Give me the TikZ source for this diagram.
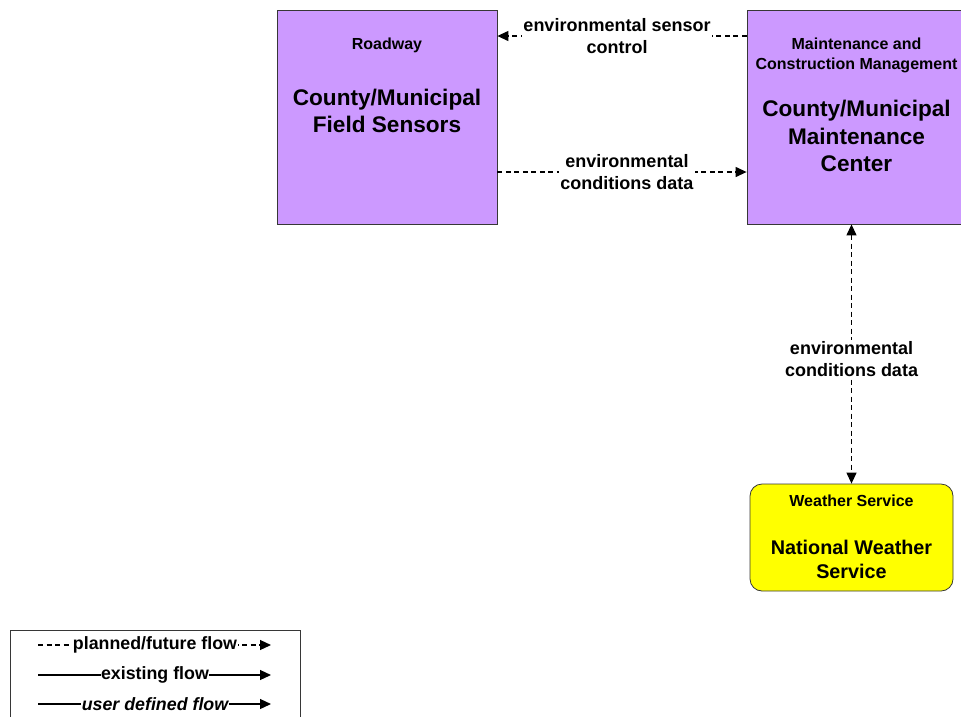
\documentclass[tikz,border=0pt]{standalone}
\usepackage{fontspec}
\setmainfont{Liberation Sans}
\usepackage{tikz}
\usetikzlibrary{arrows.meta,positioning,calc}
\definecolor{entpurple}{RGB}{204,153,255}
\definecolor{entyellow}{RGB}{255,255,0}
\definecolor{edgegray}{RGB}{55,55,55}
\newcommand{\classfont}{\fontsize{16}{20}\selectfont\bfseries}
\newcommand{\namefont}{\fontsize{22.6}{27.5}\selectfont\bfseries}
\newcommand{\flowfont}{\fontsize{18}{22}\selectfont\bfseries}

\begin{document}
\begin{tikzpicture}[x=1pt,y=-1pt,
  entity/.style={draw=edgegray,line width=0.8pt,inner sep=0pt},
  flowlbl/.style={font=\flowfont,fill=white,align=center,inner sep=1.5pt},
  planned/.style={line width=1.2pt,dash pattern=on 5pt off 3.5pt,-{Triangle[length=11pt,width=10pt]}},
  existing/.style={line width=1.2pt,-{Triangle[length=11pt,width=10pt]}}]
  \useasboundingbox (0,0) rectangle (961,716);

  % ---- entities ----
  \node[entity,fill=entpurple,minimum width=220pt,minimum height=214pt] (cfs) at (387,117) {};
  \node[font=\classfont] (cfs-class) at (387,45) {Roadway};
  \node[font=\namefont,align=center] (cfs-name) at (387,111) {County/Municipal\\Field Sensors};

  \node[entity,fill=entpurple,minimum width=219pt,minimum height=214pt] (mcm) at (856.5,117) {};
  \node[font=\classfont,align=center] (mcm-class) at (856.5,55) {Maintenance and\\Construction Management};
  \node[font=\namefont,align=center] (mcm-name) at (856.5,136) {County/Municipal\\Maintenance\\Center};

  \node[entity,fill=entyellow,rounded corners=12pt,minimum width=203pt,minimum height=107pt] (nws) at (851.5,537.5) {};
  \node[font=\classfont] (nws-class) at (851.5,501) {Weather Service};
  \node[font=\fontsize{19.8}{24}\selectfont\bfseries,align=center] (nws-name) at (851.5,559) {National Weather\\Service};

  % ---- flows ----
  \draw[planned] ([yshift=81pt]mcm.west) -- ([yshift=81pt]cfs.east)
    node[flowlbl,pos=0.52] (lbl-ctrl) {environmental sensor\\control};
  \draw[planned] ([yshift=-55pt]cfs.east) -- ([yshift=-55pt]mcm.west)
    node[flowlbl,pos=0.52] (lbl-cond) {environmental\\conditions data};
  \draw[planned,{Triangle[length=11pt,width=10pt]}-{Triangle[length=11pt,width=10pt]}] (mcm.south -| nws.north) -- (nws.north)
    node[flowlbl,pos=0.52] (lbl-nws) {environmental\\conditions data};

  % ---- legend ----
  \node[draw=edgegray,line width=0.8pt,minimum width=290pt,minimum height=110pt,anchor=north west,inner sep=0pt] (legend) at (10,630) {};
  \foreach \i/\y/\txt/\sty/\fnt in {1/645/{planned/future flow}/planned/{},
                                    2/675/{existing flow}/existing/{},
                                    3/704/{user defined flow}/existing/{\itshape}}{
    \coordinate (lg\i-a) at (38,\y);
    \coordinate (lg\i-b) at (271,\y);
    \draw[\sty] (lg\i-a) -- (lg\i-b);
    \node[font=\fontsize{17.8}{20}\selectfont\bfseries\fnt,fill=white,inner sep=0.5pt] (lg\i-txt) at (155,\y) {\txt};
  }
\end{tikzpicture}
\end{document}
